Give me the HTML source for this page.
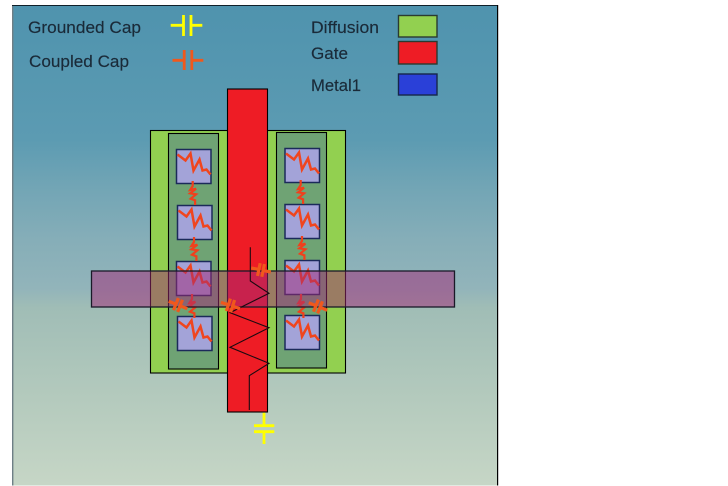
<!DOCTYPE html>
<html>
<head>
<meta charset="utf-8">
<style>
html,body{margin:0;padding:0;background:#fff}
svg{display:block}
text{font-family:"Liberation Sans",sans-serif;font-size:16.5px;fill:#1a2a38;stroke:#1a2a38;stroke-width:.15px}
</style>
</head>
<body>
<svg width="728" height="486" viewBox="0 0 728 486" xmlns="http://www.w3.org/2000/svg">
<defs>
<linearGradient id="bg" x1="0" y1="0" x2="0" y2="1">
<stop offset="0" stop-color="#4f93ae"/>
<stop offset=".28" stop-color="#5c9bb2"/>
<stop offset=".38" stop-color="#72a5b5"/>
<stop offset=".49" stop-color="#86aeb8"/>
<stop offset=".59" stop-color="#92b4ba"/>
<stop offset=".63" stop-color="#a0bdb6"/>
<stop offset=".82" stop-color="#b4cabd"/>
<stop offset="1" stop-color="#c6d6c6"/>
</linearGradient>
<g id="sq">
<rect x="0" y="0" width="34.5" height="34" fill="#a3a3d8" stroke="#1b2a5a" stroke-width="1.5"/>
<polyline points="1,5 9,11 14,4 17,21 23,10 26,21 30,20 34,25" fill="none" stroke="#f0451e" stroke-width="2.5"/>
</g>
<polyline id="r" points="0,0 0,5 -2.6,9 3.4,7.7 -2.6,12.3 3.4,13.3 -2,17.7 2.4,19.3 2.4,24" fill="none" stroke="#f0401c" stroke-width="2.2"/>
<g id="cc" stroke="#f0581c" stroke-width="3.2" fill="none">
<path d="M-10,0H-2M2,0H10M-2.2,-6.5V6.5M2.2,-6.5V6.5"/>
</g>
</defs>

<rect x="12" y="5" width="485.5" height="480.5" fill="url(#bg)"/>
<rect x="12" y="5" width="1.4" height="480.5" fill="#6e7f86"/>
<rect x="12" y="5" width="486" height="1" fill="#10202a"/>
<rect x="497" y="5" width="1.2" height="480.5" fill="#000"/>

<text x="28" y="33" textLength="113" lengthAdjust="spacingAndGlyphs">Grounded Cap</text>
<text x="29" y="67" textLength="100" lengthAdjust="spacingAndGlyphs">Coupled Cap</text>
<text x="311" y="33" textLength="68" lengthAdjust="spacingAndGlyphs">Diffusion</text>
<text x="311" y="59" textLength="37" lengthAdjust="spacingAndGlyphs">Gate</text>
<text x="311" y="91" textLength="50" lengthAdjust="spacingAndGlyphs">Metal1</text>

<path d="M170.7,25.3H183M191,25.3H202.3M183.5,15V36M191,15V36" stroke="#ffff00" stroke-width="2.8" fill="none"/>
<path d="M172.5,60.3H184M192,60.3H203.3M184.2,50V70M191.8,50V70" stroke="#f0581c" stroke-width="2.8" fill="none"/>

<rect x="398.5" y="15.5" width="38.5" height="21.5" fill="#92d050" stroke="#2a3a30" stroke-width="1.4"/>
<rect x="398.5" y="41.5" width="38.5" height="22.5" fill="#ee1c25" stroke="#2a3a30" stroke-width="1.4"/>
<rect x="398.5" y="74" width="38.5" height="21" fill="#2a40d8" stroke="#16264a" stroke-width="1.4"/>

<rect x="150.5" y="130.5" width="195" height="242.5" fill="#92d050" stroke="#000" stroke-width="1.1"/>
<rect x="168.5" y="133.5" width="50" height="235.5" fill="#6fa374" stroke="#000" stroke-width="1.1"/>
<rect x="276.5" y="132.5" width="50" height="235.5" fill="#6fa374" stroke="#000" stroke-width="1.1"/>

<use href="#sq" x="176.5" y="149.5"/>
<use href="#sq" x="177.5" y="205.5"/>
<use href="#sq" x="176.5" y="261.5"/>
<use href="#sq" x="177.5" y="316.5"/>
<use href="#sq" x="285" y="148.5"/>
<use href="#sq" x="285" y="204.5"/>
<use href="#sq" x="285" y="260.5"/>
<use href="#sq" x="285" y="315.5"/>

<use href="#r" x="192.7" y="181"/>
<use href="#r" x="194" y="237"/>
<use href="#r" x="192" y="294"/>
<use href="#r" x="300.7" y="180"/>
<use href="#r" x="302" y="236"/>
<use href="#r" x="301" y="294"/>

<rect x="227.5" y="89" width="40" height="323" fill="#ee1c25" stroke="#000" stroke-width="1.1"/>

<rect x="91.5" y="271" width="363" height="36" fill="rgb(162,40,118)" fill-opacity=".5" stroke="#1a1a28" stroke-width="1.3"/>

<polyline points="250.3,247.3 250.3,281 269,293.3 230,312.7 269,327.7 230,347.3 269,363.3 249.3,375.7 249.3,410" fill="none" stroke="#1a0a10" stroke-width="1.1"/>

<use href="#cc" transform="translate(261,270) rotate(12)"/>
<use href="#cc" transform="translate(230.5,305.5) rotate(18)"/>
<use href="#cc" transform="translate(178,305) rotate(22)"/>
<use href="#cc" transform="translate(318,306.5) rotate(22)"/>

<path d="M264,412.7V425.7M254,425.7H274.3M254,431.7H274.3M264,431.7V444" stroke="#ffff00" stroke-width="2.8" fill="none"/>
</svg>
</body>
</html>
